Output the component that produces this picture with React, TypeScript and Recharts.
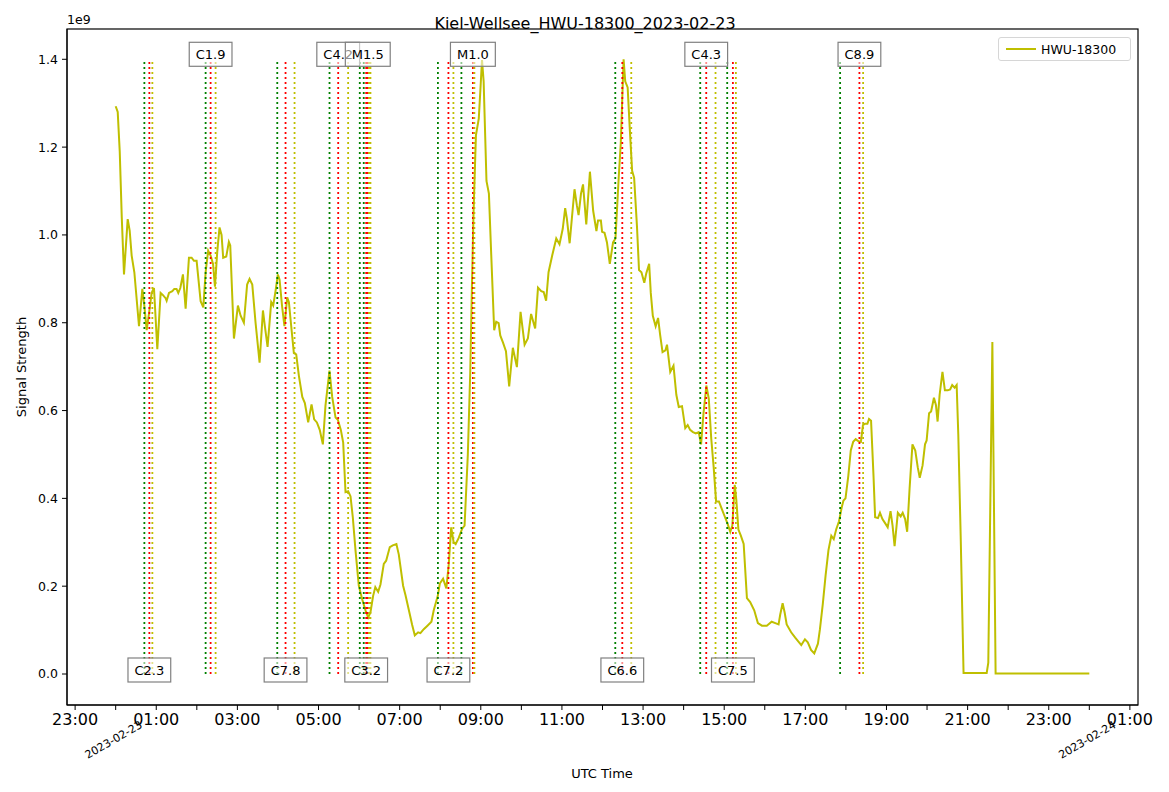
import React from "react";
import {
  ComposedChart,
  Line,
  XAxis,
  YAxis,
  ReferenceLine,
  ReferenceDot,
  Legend,
} from "recharts";

// signal, hours since 2023-02-23 00:00 UTC, values in 1e9
const signalHours = [
  0, 0.05, 0.1, 0.15, 0.205, 0.296, 0.345, 0.394, 0.46, 0.575, 0.657, 0.706, 0.764, 0.82, 0.887, 0.944,
  1.026, 1.108, 1.166, 1.23, 1.256, 1.314, 1.396, 1.445, 1.5, 1.543, 1.593, 1.658, 1.724, 1.806, 1.872,
  1.93, 1.995, 2.094, 2.16, 2.217, 2.28, 2.34, 2.4, 2.447, 2.504, 2.56, 2.61, 2.65, 2.726, 2.79, 2.824,
  2.915, 3.013, 3.08, 3.16, 3.24, 3.3, 3.367, 3.448, 3.547, 3.63, 3.678, 3.744, 3.834, 3.883, 3.94,
  3.998, 4.04, 4.1, 4.16, 4.228, 4.27, 4.327, 4.392, 4.45, 4.516, 4.6, 4.663, 4.745, 4.828, 4.893,
  4.96, 5.03, 5.107, 5.172, 5.27, 5.337, 5.42, 5.476, 5.55, 5.608, 5.665, 5.73, 5.788, 5.845, 5.911,
  5.993, 6.076, 6.158, 6.224, 6.28, 6.346, 6.4, 6.47, 6.527, 6.609, 6.667, 6.757, 6.83, 6.92, 6.979,
  7.085, 7.143, 7.24, 7.307, 7.373, 7.455, 7.512, 7.594, 7.685, 7.783, 7.84, 7.94, 7.99, 8.07, 8.15,
  8.21, 8.27, 8.33, 8.38, 8.456, 8.54, 8.6, 8.68, 8.74, 8.78, 8.82, 8.88, 8.95, 8.99, 9.03, 9.07, 9.14,
  9.2, 9.25, 9.33, 9.38, 9.44, 9.48, 9.55, 9.62, 9.7, 9.79, 9.89, 9.98, 10.08, 10.16, 10.24, 10.34,
  10.41, 10.49, 10.55, 10.61, 10.67, 10.76, 10.86, 10.94, 11.02, 11.08, 11.12, 11.19, 11.25, 11.31,
  11.37, 11.41, 11.47, 11.52, 11.6, 11.69, 11.77, 11.85, 11.89, 11.96, 11.99, 12.05, 12.11, 12.18,
  12.26, 12.32, 12.4, 12.45, 12.52, 12.56, 12.62, 12.67, 12.73, 12.78, 12.85, 12.9, 12.96, 13.03,
  13.08, 13.15, 13.19, 13.24, 13.31, 13.37, 13.42, 13.48, 13.55, 13.59, 13.67, 13.75, 13.82, 13.88,
  13.96, 14.04, 14.1, 14.16, 14.23, 14.3, 14.37, 14.43, 14.49, 14.56, 14.62, 14.68, 14.74, 14.8, 14.87,
  14.94, 15.02, 15.08, 15.15, 15.2, 15.26, 15.3, 15.35, 15.41, 15.48, 15.56, 15.64, 15.74, 15.83,
  15.93, 16.05, 16.17, 16.26, 16.34, 16.38, 16.44, 16.49, 16.54, 16.65, 16.75, 16.83, 16.9, 16.99,
  17.06, 17.14, 17.22, 17.31, 17.36, 17.43, 17.5, 17.57, 17.64, 17.7, 17.76, 17.83, 17.9, 17.94,
  17.99, 18.06, 18.12, 18.18, 18.24, 18.31, 18.37, 18.42, 18.47, 18.53, 18.57, 18.62, 18.68, 18.72,
  18.79, 18.84, 18.9, 18.97, 19.03, 19.1, 19.15, 19.2, 19.28, 19.35, 19.4, 19.46, 19.51, 19.57, 19.64,
  19.71, 19.77, 19.82, 19.89, 19.95, 19.99, 20.05, 20.1, 20.17, 20.22, 20.26, 20.31, 20.38, 20.44,
  20.51, 20.57, 20.62, 20.68, 20.73, 20.77, 20.83, 20.9, 21.1, 21.47, 21.51, 21.61, 21.69, 22.5, 24,
];

const signalValues = [
  1.293, 1.28, 1.19, 1.04, 0.91, 1.036, 1.01, 0.953, 0.915, 0.792, 0.877, 0.839, 0.783, 0.82, 0.868, 0.879,
  0.74, 0.868, 0.863, 0.856, 0.85, 0.868, 0.872, 0.877, 0.877, 0.868, 0.879, 0.91, 0.832, 0.948, 0.948,
  0.941, 0.941, 0.849, 0.835, 0.915, 0.964, 0.953, 0.934, 0.882, 0.962, 1.017, 1.0, 0.948, 0.951, 0.984, 0.976,
  0.764, 0.839, 0.816, 0.8, 0.887, 0.9, 0.887, 0.8, 0.709, 0.828, 0.792, 0.745, 0.847, 0.839, 0.872,
  0.91, 0.898, 0.839, 0.792, 0.858, 0.847, 0.792, 0.731, 0.728, 0.679, 0.631, 0.617, 0.573, 0.614, 0.58,
  0.573, 0.556, 0.523, 0.612, 0.691, 0.631, 0.584, 0.579, 0.556, 0.527, 0.414, 0.416, 0.405, 0.357, 0.282,
  0.201, 0.17, 0.145, 0.129, 0.14, 0.178, 0.198, 0.187, 0.204, 0.251, 0.258, 0.289, 0.293, 0.296, 0.272,
  0.201, 0.18, 0.14, 0.112, 0.088, 0.095, 0.093, 0.102, 0.11, 0.119, 0.145, 0.178, 0.206, 0.217, 0.195,
  0.249, 0.334, 0.3, 0.296, 0.31, 0.331, 0.338, 0.499, 0.688, 0.877, 1.047, 1.227, 1.265, 1.33, 1.398, 1.35, 1.123,
  1.094, 0.972, 0.783, 0.802, 0.799, 0.771, 0.754, 0.735, 0.655, 0.743, 0.699, 0.825, 0.75, 0.764, 0.82, 0.787,
  0.88, 0.872, 0.87, 0.85, 0.915, 0.953, 0.992, 0.979, 1.014, 1.061, 1.038, 0.981, 1.043, 1.104,
  1.066, 1.045, 1.094, 1.115, 1.024, 1.144, 1.055, 1.009, 1.033, 1.033, 1.007, 1.005, 0.983, 0.934,
  0.983, 0.992, 1.132, 1.208, 1.4, 1.35, 1.336, 1.246, 1.146, 1.13, 1.019, 0.92, 0.915, 0.891,
  0.913, 0.934, 0.868, 0.816, 0.792, 0.811, 0.773, 0.733, 0.737, 0.75, 0.688, 0.702, 0.636, 0.608,
  0.61, 0.56, 0.567, 0.556, 0.551, 0.548, 0.551, 0.523, 0.594, 0.657, 0.627, 0.537, 0.471, 0.393, 0.393,
  0.376, 0.357, 0.343, 0.324, 0.338, 0.431, 0.395, 0.329, 0.315, 0.296, 0.173, 0.164, 0.145, 0.116,
  0.11, 0.11, 0.119, 0.116, 0.113, 0.135, 0.161, 0.14, 0.113, 0.095, 0.083, 0.074, 0.066, 0.079,
  0.072, 0.055, 0.047, 0.069, 0.102, 0.159, 0.225, 0.282, 0.315, 0.307, 0.329, 0.348, 0.381, 0.395,
  0.4, 0.452, 0.509, 0.529, 0.535, 0.53, 0.529, 0.567, 0.57, 0.57, 0.581, 0.577, 0.452, 0.357,
  0.355, 0.367, 0.353, 0.343, 0.334, 0.371, 0.338, 0.291, 0.367, 0.359, 0.367, 0.353, 0.324, 0.423, 0.523,
  0.509, 0.471, 0.447, 0.475, 0.523, 0.532, 0.594, 0.598, 0.629, 0.612, 0.575, 0.636, 0.688, 0.646,
  0.646, 0.648, 0.658, 0.652, 0.658, 0.546, 0.31, 0.002, 0.002, 0.002, 0.026, 0.756, 0.001, 0.001, 0.001,
];

// GOES flares: start / peak / end in hours
const flareClasses = ["C2.3", "C1.9", "C7.8", "C4.2", "M1.5", "C3.2", "C7.2", "M1.0", "C6.6", "C4.3", "C7.5", "C8.9"];
const flareStart = [0.707, 2.217, 3.983, 5.271, 6.017, 6.115, 7.943, 8.522, 12.315, 14.409, 15.074, 17.857];
const flarePeak = [0.83, 2.34, 4.187, 5.485, 6.214, 6.175, 8.202, 8.805, 12.488, 14.557, 15.214, 18.333];
const flareEnd = [0.904, 2.463, 4.409, 5.73, 6.28, 6.245, 8.325, 8.842, 12.709, 14.786, 15.288, 18.424];
const flareSide = ["bottom", "top", "bottom", "top", "top", "bottom", "bottom", "top", "bottom", "top", "bottom", "top"];

const hourTicks = [-1, 0, 1, 2, 3, 4, 5, 6, 7, 8, 9, 10, 11, 12, 13, 14, 15, 16, 17, 18, 19, 20, 21, 22, 23, 24, 25];
const yTicks = [0, 0.2, 0.4, 0.6, 0.8, 1.0, 1.2, 1.4];

const signal = signalHours.map((t, i) => ({ t, v: signalValues[i] }));

const OLIVE = "#bfbf00";
const FLARE_TOP = 1.4;

function HourTick(props: any) {
  const { x, payload } = props;
  const h = payload.value as number;
  const hh = String(((h % 24) + 24) % 24).padStart(2, "0");
  return (
    <g>
      {Math.abs(h % 2) === 1 && (
        <text x={x} y={719} textAnchor="middle" dominantBaseline="central" fontSize={16} fill="#000">
          {hh}:00
        </text>
      )}
      {(h === 0 || h === 24) && (
        <text
          x={x - 2}
          y={740}
          textAnchor="middle"
          dominantBaseline="central"
          fontSize={11}
          fill="#000"
          transform={`rotate(-30 ${x - 2} 740)`}
        >
          {h === 0 ? "2023-02-23" : "2023-02-24"}
        </text>
      )}
    </g>
  );
}

function textWidth(s: string, size: number) {
  let w = 0;
  for (const c of s) w += c === "." ? 0.318 : c === "M" ? 0.863 : c === "C" ? 0.698 : 0.636;
  return w * size;
}

function FlareBox(label: string, side: string) {
  return (props: any) => {
    const { cx, cy } = props;
    const w = textWidth(label, 13) + 13;
    const yc = side === "top" ? cy - 5 : cy - 4;
    return (
      <g>
        <rect x={cx - w / 2} y={yc - 12} width={w} height={24} fill="#fff" fillOpacity={0.55} stroke="#808080" strokeWidth={1.2} />
        <text x={cx} y={yc} textAnchor="middle" dominantBaseline="central" fontSize={13} fill="#000">
          {label}
        </text>
      </g>
    );
  };
}

function LegendBox() {
  return (
    <div
      style={{
        border: "1px solid #d6d6d6",
        borderRadius: 3,
        background: "#fff",
        width: 131,
        height: 22,
        display: "flex",
        alignItems: "center",
        fontSize: 12.5,
        color: "#000",
      }}
    >
      <svg width={42} height={22}>
        <line x1={7} x2={37} y1={11} y2={11} stroke={OLIVE} strokeWidth={2} />
      </svg>
      <span>HWU-18300</span>
    </div>
  );
}

export default function App() {
  const dotted = "2 3";
  return (
    <div style={{ position: "absolute", left: 0, top: 0, fontFamily: "DejaVu Sans" }}>
      <ComposedChart width={1169} height={792} data={signal} margin={{ top: 29, right: 31, bottom: 0, left: 0 }}>
        <XAxis
          dataKey="t"
          type="number"
          domain={[-1.2, 25.2]}
          ticks={hourTicks}
          interval={0}
          allowDataOverflow
          height={87}
          tickSize={5}
          stroke="#000"
          tick={(p: any) => <HourTick {...p} />}
        />
        <YAxis
          type="number"
          domain={[-0.0706, 1.469]}
          ticks={yTicks}
          allowDataOverflow
          width={67}
          tickSize={5}
          tickMargin={4}
          stroke="#000"
          tick={{ fill: "#000", fontSize: 12.5 }}
          tickFormatter={(v: number) => v.toFixed(1)}
        />
        <Legend
          layout="horizontal"
          verticalAlign="middle"
          wrapperStyle={{ position: "absolute", left: 998, top: 37, width: 133 }}
          content={() => <LegendBox />}
        />
        <Line
          dataKey="v"
          name="HWU-18300"
          type="linear"
          stroke={OLIVE}
          strokeWidth={2}
          dot={false}
          isAnimationActive={false}
        />
        {flareClasses.map((c, i) => (
          <ReferenceLine
            key={"s" + c}
            segment={[{ x: flareStart[i], y: 0 }, { x: flareStart[i], y: FLARE_TOP }]}
            stroke="#008000"
            strokeWidth={1.8}
            strokeDasharray={dotted}
          />
        ))}
        {flareClasses.map((c, i) => (
          <ReferenceLine
            key={"p" + c}
            segment={[{ x: flarePeak[i], y: 0 }, { x: flarePeak[i], y: FLARE_TOP }]}
            stroke="#ff0000"
            strokeWidth={1.8}
            strokeDasharray={dotted}
          />
        ))}
        {flareClasses.map((c, i) => (
          <ReferenceLine
            key={"e" + c}
            segment={[{ x: flareEnd[i], y: 0 }, { x: flareEnd[i], y: FLARE_TOP }]}
            stroke={OLIVE}
            strokeWidth={1.8}
            strokeDasharray={dotted}
          />
        ))}
        {flareClasses.map((c, i) => (
          <ReferenceDot
            key={"l" + c}
            x={flarePeak[i]}
            y={flareSide[i] === "top" ? FLARE_TOP : 0}
            shape={FlareBox(c, flareSide[i])}
          />
        ))}
        <rect x={67} y={29} width={1071} height={676} fill="none" stroke="#000" strokeWidth={1.2} />
        <text x={585} y={23} textAnchor="middle" dominantBaseline="central" fontSize={16} fill="#000">
          Kiel-Wellsee_HWU-18300_2023-02-23
        </text>
        <text x={67} y={24} fontSize={12.5} fill="#000">
          1e9
        </text>
        <text
          x={21}
          y={367}
          textAnchor="middle"
          dominantBaseline="central"
          fontSize={13}
          fill="#000"
          transform="rotate(-90 21 367)"
        >
          Signal Strength
        </text>
        <text x={602} y={773} textAnchor="middle" dominantBaseline="central" fontSize={13} fill="#000">
          UTC Time
        </text>
      </ComposedChart>
    </div>
  );
}
